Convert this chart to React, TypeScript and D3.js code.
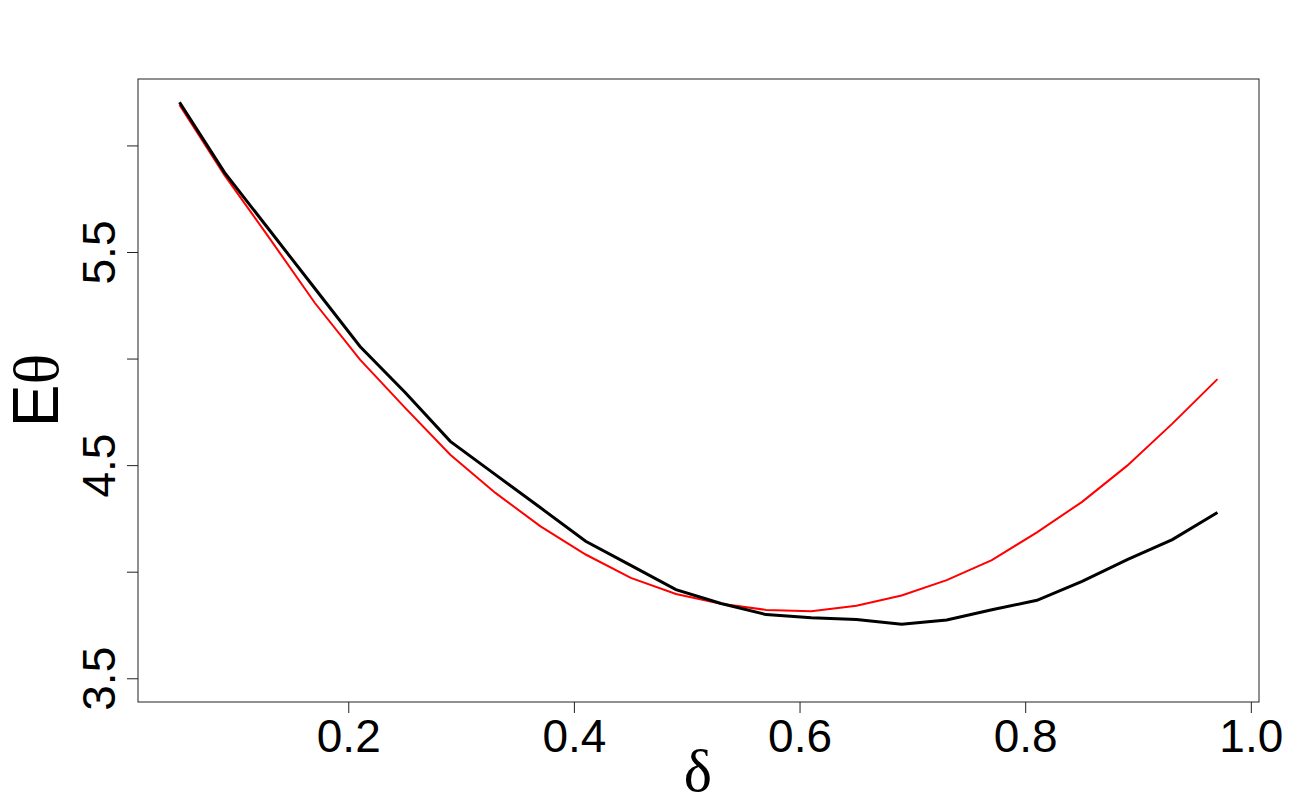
import React from "react";
import * as d3 from "d3";

const delta = [0.05, 0.09, 0.13, 0.17, 0.21, 0.25, 0.29, 0.33, 0.37, 0.41, 0.45, 0.49, 0.53, 0.57, 0.61, 0.65, 0.69, 0.73, 0.77, 0.81, 0.85, 0.89, 0.93, 0.97];
const simulated = [6.205, 5.875, 5.603, 5.331, 5.059, 4.843, 4.614, 4.458, 4.302, 4.145, 4.032, 3.918, 3.853, 3.801, 3.786, 3.778, 3.756, 3.776, 3.824, 3.868, 3.957, 4.059, 4.153, 4.28];
const theoretical = [6.192, 5.862, 5.565, 5.263, 4.997, 4.771, 4.551, 4.372, 4.215, 4.083, 3.973, 3.898, 3.852, 3.823, 3.817, 3.843, 3.891, 3.963, 4.057, 4.187, 4.33, 4.5, 4.697, 4.906];
const xTicks = [0.2, 0.4, 0.6, 0.8, 1.0];
const yTicks = [3.5, 4.0, 4.5, 5.0, 5.5, 6.0];
const yLabels = [3.5, 4.5, 5.5];

export default function App() {
  const W = 1300, H = 800;
  const left = 138, right = 1259, top = 79, bottom = 702;
  const x = d3.scaleLinear().domain([0.0132, 1.0068]).range([left, right]);
  const y = d3.scaleLinear().domain([3.391, 6.314]).range([bottom, top]);
  const line = d3.line<number>().x((_, i) => x(delta[i])).y((v) => y(v));
  const sans = "'Liberation Sans', Arial, sans-serif";
  const serif = "'Liberation Serif', 'DejaVu Serif', serif";
  const tickLen = 11;
  return (
    <svg width={W} height={H} style={{ position: "absolute", left: 0, top: 0, background: "#fff" }}>
      <rect x={left} y={top} width={right - left} height={bottom - top} fill="none" stroke="#222" strokeWidth={1} />
      {xTicks.map((t) => (
        <g key={"x" + t}>
          <line x1={x(t)} x2={x(t)} y1={bottom} y2={bottom + tickLen} stroke="#222" strokeWidth={1} />
          <text x={x(t)} y={752} textAnchor="middle" fontFamily={sans} fontSize={46} fill="#000">
            {t.toFixed(1)}
          </text>
        </g>
      ))}
      {yTicks.map((t) => (
        <line key={"y" + t} x1={left - tickLen} x2={left} y1={y(t)} y2={y(t)} stroke="#222" strokeWidth={1} />
      ))}
      {yLabels.map((t) => (
        <text key={"yl" + t} transform={`translate(115,${y(t)}) rotate(-90)`} textAnchor="middle" fontFamily={sans} fontSize={46} fill="#000">
          {t.toFixed(1)}
        </text>
      ))}
      <path d={line(theoretical) || ""} fill="none" stroke="#FF0000" strokeWidth={2} />
      <path d={line(simulated) || ""} fill="none" stroke="#000" strokeWidth={3} />
      <text x={698} y={791} textAnchor="middle" fontFamily={serif} fontSize={60} fill="#000">
        δ
      </text>
      <text transform={`translate(58,${(top + bottom) / 2}) rotate(-90)`} textAnchor="middle" fill="#000" fontSize={64}>
        <tspan fontFamily={sans}>E</tspan>
        <tspan fontFamily={serif}>θ</tspan>
      </text>
    </svg>
  );
}
